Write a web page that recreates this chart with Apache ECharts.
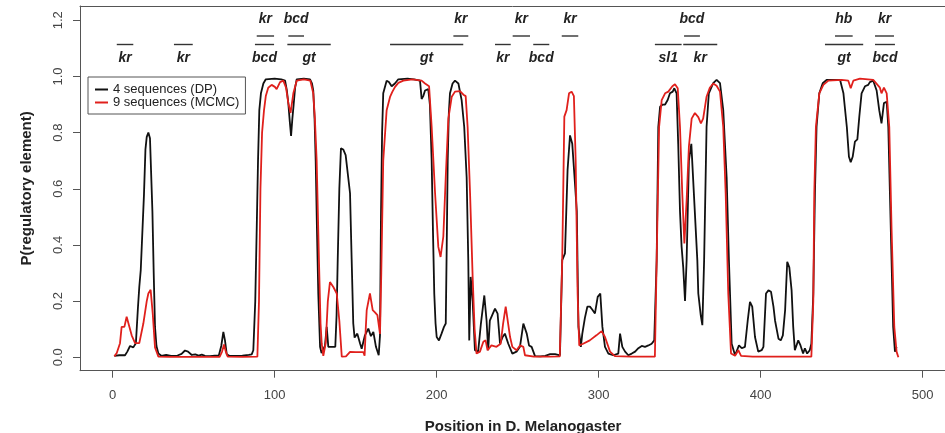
<!DOCTYPE html>
<html>
<head>
<meta charset="utf-8">
<script src="https://cdn.jsdelivr.net/npm/echarts@6/dist/echarts.min.js"></script>
<style>
html,body{margin:0;padding:0;background:#fff;}
#c{width:945px;height:433px;}
</style>
</head>
<body>
<div id="c"></div>
<script>
// ---- data ----
const xTicks = [0, 100, 200, 300, 400, 500];
const yTicks = [0, 0.2, 0.4, 0.6, 0.8, 1.0, 1.2];

const seriesNames = ['4 sequences (DP)', '9 sequences (MCMC)'];

// 4 sequences (DP): [position, probability]
const dpData = [[1,0.005],[4,0.007],[7.6,0.007],[9,0.02],[10.7,0.04],[12.7,0.035],[14.3,0.05],[15.5,0.17],[16.4,0.25],[17.3,0.31],[18.3,0.31],[19.3,0.58],[20.2,0.74],[21,0.785],[22,0.80],[23,0.78],[24.5,0.52],[25.3,0.3],[26.1,0.108],[27,0.04],[28.2,0.013],[30,0.005],[33,0.008],[36,0.005],[40,0.006],[42.5,0.012],[44.6,0.024],[46.5,0.02],[48.8,0.008],[51,0.01],[53,0.006],[55,0.009],[57,0.005],[60,0.004],[63,0.006],[65.5,0.006],[67,0.04],[68.3,0.09],[69.3,0.06],[70.4,0.01],[72,0.005],[76,0.005],[80,0.006],[84,0.008],[85.8,0.01],[86.8,0.025],[88,0.2],[88.9,0.46],[89.7,0.7],[90.5,0.88],[91.5,0.94],[93,0.975],[94.5,0.99],[100,0.992],[104,0.99],[106.4,0.985],[107.5,0.95],[108.4,0.905],[109.3,0.84],[110.1,0.788],[110.9,0.85],[111.7,0.9],[112.6,0.96],[113.6,0.99],[118,0.992],[121.8,0.99],[123,0.975],[123.8,0.95],[124.6,0.85],[125.3,0.70],[126.1,0.45],[126.9,0.227],[128,0.037],[128.9,0.015],[130,0.02],[131,0.04],[132.1,0.108],[133.1,0.037],[135,0.037],[137.4,0.037],[138.2,0.15],[138.9,0.346],[139.9,0.6],[140.9,0.744],[142.3,0.74],[143.8,0.72],[145,0.725],[146.5,0.584],[147.5,0.35],[148.5,0.12],[149.3,0.07],[151,0.084],[152.7,0.049],[153.7,0.03],[155.7,0.078],[157.8,0.102],[159.4,0.075],[160.9,0.09],[162.5,0.037],[164.2,0.007],[165,0.078],[165.6,0.5],[166.3,0.8],[167,0.94],[169.1,0.985],[170.5,0.98],[172.2,0.965],[174.2,0.975],[176.3,0.99],[182,0.992],[186,0.99],[189.7,0.985],[190.7,0.92],[191.7,0.93],[192.8,0.95],[194.8,0.955],[195.8,0.9],[196.9,0.70],[197.7,0.45],[198.5,0.227],[199.3,0.12],[200,0.072],[201.4,0.06],[203,0.084],[204.5,0.108],[205.6,0.12],[206.2,0.4],[206.8,0.70],[207.5,0.87],[208.2,0.94],[209.8,0.975],[211.3,0.985],[213.4,0.975],[215.4,0.916],[217,0.82],[218.5,0.64],[219.5,0.346],[220.1,0.06],[221,0.286],[222.2,0.2],[223.6,0.025],[225.6,0.02],[227.3,0.12],[229.4,0.22],[230.8,0.13],[231.8,0.025],[232.8,0.13],[233.8,0.13],[236,0.173],[237.6,0.155],[239.1,0.048],[240.7,0.072],[242.1,0.084],[244.2,0.048],[246.7,0.013],[249.3,0.02],[251.4,0.037],[253.5,0.12],[254.5,0.126],[255.6,0.084],[257,0.042],[258.6,0.037],[260.7,0.004],[264,0.003],[267,0.005],[270,0.011],[273.1,0.011],[276.1,0.007],[277.5,0.346],[279.2,0.37],[280.8,0.667],[282.3,0.79],[283.7,0.76],[285,0.65],[286.5,0.52],[287.5,0.108],[289,0.037],[289.9,0.084],[291.5,0.14],[293,0.18],[294.6,0.18],[296,0.17],[297.7,0.156],[299.4,0.215],[301,0.227],[302.3,0.108],[303.9,0.037],[306,0.013],[309,0.007],[312.1,0.013],[313.2,0.084],[314.6,0.037],[316.3,0.02],[318.3,0.007],[320.4,0.013],[322.5,0.02],[324.5,0.032],[326.6,0.04],[328.6,0.037],[330.7,0.042],[332.7,0.048],[334.3,0.06],[335.8,0.346],[336.8,0.82],[337.9,0.892],[339.5,0.9],[341,0.9],[342.6,0.916],[344,0.94],[345.7,0.946],[346.7,0.958],[348.1,0.94],[349.1,0.76],[350.2,0.52],[351.2,0.393],[352.2,0.32],[353.3,0.2],[354.3,0.346],[355.7,0.70],[357.2,0.76],[358.8,0.58],[360.9,0.346],[361.5,0.227],[363,0.15],[364,0.114],[365.1,0.346],[366.6,0.82],[368,0.94],[370.7,0.976],[372.8,0.988],[374.9,0.976],[376.9,0.88],[379,0.64],[380.4,0.346],[382.1,0.048],[384.2,0.007],[386.6,0.042],[388.3,0.032],[390.3,0.037],[392,0.13],[393.4,0.197],[394.8,0.18],[396.5,0.072],[398.5,0.02],[400.6,0.025],[401.7,0.037],[403.3,0.227],[404.8,0.238],[406.4,0.233],[407.9,0.18],[408.9,0.13],[411,0.066],[412.4,0.06],[413.7,0.078],[415.1,0.168],[416.4,0.34],[417.7,0.32],[419.1,0.238],[420.1,0.108],[421.1,0.025],[423.2,0.06],[424.6,0.042],[426.2,0.013],[427.3,0.032],[428.7,0.013],[430.3,0.025],[431.3,0.048],[432.5,0.227],[433.5,0.584],[434.5,0.82],[436.2,0.94],[438.3,0.976],[440.7,0.988],[449,0.988],[451.1,0.94],[453.2,0.82],[454.5,0.714],[455.6,0.695],[456.8,0.714],[458.2,0.768],[459.7,0.776],[460.9,0.857],[462.3,0.94],[464.4,0.965],[466.4,0.97],[467.4,0.98],[469.5,0.985],[471.6,0.95],[473.2,0.88],[474.6,0.833],[476.1,0.905],[477.8,0.91],[478.8,0.82],[479.8,0.584],[480.8,0.346],[481.8,0.108],[482.9,0.02],[483.9,0.037]];

// 9 sequences (MCMC): [position, probability]
const mcmcData = [[1,0.003],[2.5,0.015],[3.5,0.01],[4.5,0.05],[5.5,0.108],[7.2,0.108],[8.6,0.144],[9.7,0.14],[11.7,0.078],[13.8,0.05],[16.4,0.05],[18.9,0.12],[21,0.2],[22,0.227],[23.4,0.24],[24.7,0.156],[26.1,0.035],[28.2,0.002],[35,0.001],[50,0.001],[66,0.001],[67.5,0.02],[68.7,0.045],[69.8,0.02],[71,0.002],[80,0.001],[89.3,0.002],[90.3,0.2],[91.2,0.6],[92.2,0.8],[93.4,0.88],[94.5,0.93],[96,0.96],[98.1,0.97],[100.1,0.963],[101.2,0.955],[103.3,0.98],[105.3,0.985],[107,0.96],[108.4,0.905],[109.8,0.87],[111.5,0.94],[113.6,0.985],[118,0.99],[122,0.985],[123.8,0.94],[124.8,0.85],[125.9,0.70],[127.3,0.35],[128.3,0.12],[129,0.05],[130,0.005],[131.5,0.05],[132.8,0.2],[134.1,0.268],[136.2,0.25],[138.3,0.227],[139.9,0.13],[141.4,0.002],[144,0.003],[146.5,0.019],[150,0.018],[154.7,0.018],[155.5,0.005],[156.2,0.1],[156.8,0.168],[158.8,0.227],[160.5,0.168],[161.9,0.16],[163.4,0.15],[165,0.083],[165.8,0.3],[167,0.70],[169.1,0.88],[171.2,0.927],[172.6,0.945],[174.2,0.962],[176.3,0.977],[179.4,0.985],[185,0.99],[190.7,0.985],[192.8,0.975],[195.3,0.965],[196.9,0.82],[199,0.584],[201,0.393],[202.4,0.357],[204.1,0.43],[205.6,0.643],[207.2,0.85],[209.3,0.928],[211.3,0.946],[214.4,0.948],[216.5,0.935],[217.9,0.93],[219.1,0.82],[220.6,0.584],[222.2,0.286],[223.4,0.1],[224.6,0.013],[226.7,0.02],[228.8,0.055],[230.2,0.06],[231.4,0.025],[233.8,0.042],[236.9,0.037],[239.5,0.048],[241,0.12],[242.6,0.18],[243.8,0.173],[245.3,0.072],[246.7,0.037],[249.3,0.025],[251.4,0.042],[253.5,0.037],[254.5,0.007],[260,0.002],[270,0.002],[276,0.003],[277.5,0.35],[278.8,0.857],[280.2,0.88],[281.7,0.94],[283.3,0.946],[284.7,0.93],[285.8,0.70],[287,0.227],[288,0.042],[290.4,0.048],[294.5,0.06],[298.6,0.078],[301.8,0.093],[303.9,0.072],[307,0.02],[310,0.004],[320,0.002],[334.7,0.002],[335.8,0.346],[337.3,0.82],[338.9,0.916],[341,0.94],[343,0.946],[345.5,0.965],[347.1,0.972],[348.8,0.958],[350.2,0.82],[351.6,0.584],[352.9,0.405],[354.3,0.56],[355.7,0.75],[357.4,0.85],[359.4,0.87],[361.5,0.855],[363.1,0.833],[364.5,0.85],[366.6,0.928],[368.6,0.96],[370.7,0.975],[372.8,0.967],[374.9,0.946],[376.9,0.82],[378.4,0.584],[380,0.227],[381.7,0.013],[384.2,0.005],[386.2,0.025],[387.9,0.005],[395,0.002],[420,0.002],[431.3,0.002],[432.5,0.2],[433.1,0.584],[434.1,0.82],[436.2,0.94],[438.7,0.97],[441.8,0.985],[450,0.988],[454.1,0.985],[455.6,0.958],[457.2,0.985],[461.3,0.992],[469.5,0.988],[473.6,0.96],[474.6,0.94],[476.1,0.96],[477.8,0.94],[479.4,0.82],[480.8,0.46],[482.5,0.108],[483.9,0.02],[485,0.0]];

// annotated regulatory elements: start, end, name, level (1 = upper row, label above; 0 = lower row, label below)
const annStart = [2.5, 37.8, 88.9, 87.8, 108.4, 107.8, 171.2, 210.3, 236.0, 246.9, 259.6, 277.2, 334.7, 352.2, 352.7, 439.7, 445.9, 470.6, 470.6];
const annEnd   = [12.7, 49.4, 99.6, 99.6, 118.1, 134.6, 216.4, 219.5, 245.7, 257.6, 269.5, 287.4, 351.2, 373.2, 362.5, 463.3, 456.8, 482.3, 482.9];
const annName  = ['kr','kr','kr','bcd','bcd','gt','gt','kr','kr','kr','bcd','kr','sl1','kr','bcd','gt','hb','kr','bcd'];
const annLevel = [0,0,1,0,1,0,0,1,0,1,0,1,0,0,1,0,1,1,0];

// ---- chart ----
const FONT = '"Liberation Sans", Arial, Helvetica, sans-serif';
const chart = echarts.init(document.getElementById('c'), null, {renderer: 'canvas'});

const annData = annStart.map((s, i) => [s, annEnd[i], 1.1]);
const X_MIN = -20.2, X_MAX = 513.8;
const frameLine = {show: true, onZero: false, lineStyle: {color: '#555', width: 1}};

const option = {
  animation: false,
  backgroundColor: '#ffffff',
  grid: {left: 80, top: 6, right: 0, bottom: 62.3, show: false, containLabel: false, outerBoundsMode: 'none'},
  legend: {
    data: seriesNames,
    orient: 'vertical',
    left: 88, top: 77,
    padding: [6, 6, 5, 7],
    itemGap: 0,
    itemWidth: 13,
    itemHeight: 2,
    icon: 'rect',
    borderColor: '#555',
    borderWidth: 1,
    borderRadius: 0,
    backgroundColor: '#fff',
    textStyle: {fontFamily: FONT, fontSize: 13, color: '#222', lineHeight: 13},
    selectedMode: false
  },
  xAxis: [
    {
      type: 'value',
      min: X_MIN, max: X_MAX,
      position: 'bottom',
      name: 'Position in D. Melanogaster',
      nameLocation: 'middle',
      nameGap: 49,
      nameTextStyle: {fontFamily: FONT, fontSize: 15, fontWeight: 'bold', color: '#222', padding: [0, 0, 0, 21]},
      axisLine: frameLine,
      axisTick: {show: true, inside: false, customValues: xTicks, length: 7, lineStyle: {color: '#555', width: 1}},
      axisLabel: {customValues: xTicks, margin: 18, fontFamily: FONT, fontSize: 13, color: '#444'},
      splitLine: {show: false}
    },
    {
      type: 'value',
      min: X_MIN, max: X_MAX,
      position: 'top',
      axisLine: frameLine,
      axisTick: {show: false},
      axisLabel: {show: false},
      splitLine: {show: false}
    }
  ],
  yAxis: {
    type: 'value',
    min: -0.048, max: 1.251,
    position: 'left',
    name: 'P(regulatory element)',
    nameLocation: 'middle',
    nameGap: 46,
    nameTextStyle: {fontFamily: FONT, fontSize: 15, fontWeight: 'bold', color: '#222'},
    axisLine: frameLine,
    axisTick: {show: true, inside: false, customValues: yTicks, length: 7, lineStyle: {color: '#555', width: 1}},
    axisLabel: {customValues: yTicks, rotate: 90, margin: 15, fontFamily: FONT, fontSize: 13, color: '#444',
      formatter: v => Number(v).toFixed(1)},
    splitLine: {show: false}
  },
  series: [
    {
      name: seriesNames[0], type: 'line', data: dpData,
      showSymbol: false, symbol: 'none', smooth: false,
      color: '#111111',
      lineStyle: {color: '#111111', width: 1.8},
      z: 2
    },
    {
      name: seriesNames[1], type: 'line', data: mcmcData,
      showSymbol: false, symbol: 'none', smooth: false,
      color: '#e0201c',
      lineStyle: {color: '#e0201c', width: 1.8},
      z: 3
    },
    {
      type: 'custom', data: annData, silent: true, clip: false, z: 5,
      encode: {x: [0, 1], y: 2},
      renderItem: function (params, api) {
        const i = params.dataIndex;
        const x0 = api.coord([api.value(0), 0])[0];
        const x1 = api.coord([api.value(1), 0])[0];
        const top = params.coordSys.y;
        const up = annLevel[i] === 1;
        const segY = top + (up ? 30 : 38.5);
        const txtY = top + (up ? 12.8 : 51.8);
        return {
          type: 'group',
          children: [
            {type: 'line', shape: {x1: x0, y1: segY, x2: x1, y2: segY},
             style: {stroke: '#333', lineWidth: 1.4}},
            {type: 'text', x: (x0 + x1) / 2, y: txtY,
             style: {text: annName[i], align: 'center', verticalAlign: 'middle',
                     font: 'italic bold 14px ' + FONT, fill: '#222'}}
          ]
        };
      }
    }
  ]
};
chart.setOption(option);
</script>
</body>
</html>
